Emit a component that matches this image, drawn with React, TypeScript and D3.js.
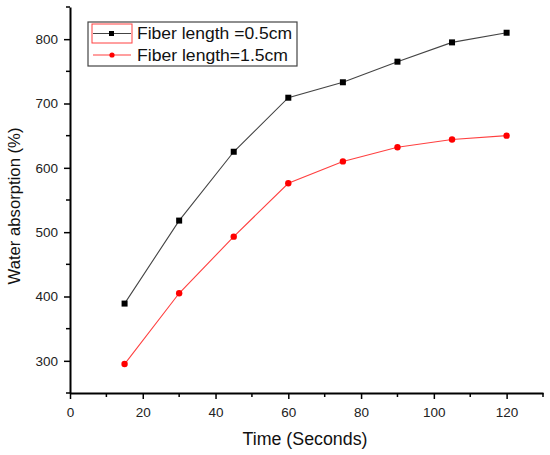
import { useEffect, useRef } from "react";
import * as d3 from "d3";

const times = [15, 30, 45, 60, 75, 90, 105, 120];
const shortFiber = [389, 518, 625, 709, 733, 765, 795, 810];
const longFiber = [295, 405, 493, 576, 610, 632, 644, 650];
const xTicks = [0, 20, 40, 60, 80, 100, 120];
const yTicks = [300, 400, 500, 600, 700, 800];
const seriesNames = ["Fiber length =0.5cm", "Fiber length=1.5cm"];

export default function App() {
  const svgRef = useRef(null);

  useEffect(() => {
    const svg = d3.select(svgRef.current);
    svg.selectAll("*").remove();

    const width = 550;
    const height = 455;
    const margin = { top: 7, right: 7, bottom: 62, left: 70 };
    const font = "Liberation Sans, Arial, sans-serif";

    svg.attr("width", width).attr("height", height);
    svg.append("rect").attr("width", width).attr("height", height).attr("fill", "white");

    const x = d3.scaleLinear().domain([0, 130]).range([margin.left, width - margin.right]);
    const y = d3.scaleLinear().domain([250, 850]).range([height - margin.bottom, margin.top]);

    const chart = svg.append("g");

    // minor ticks between the labelled ones
    const xMinor = d3.range(10, 131, 20);
    const yMinor = d3.range(250, 851, 100);

    const xAxisG = chart.append("g").attr("transform", `translate(0, ${y(250)})`);
    xAxisG
      .call(d3.axisBottom(x).tickValues(xTicks).tickSize(6).tickSizeOuter(0).tickPadding(8))
      .call((g) => g.select(".domain").attr("stroke", "#000").attr("stroke-width", 2))
      .call((g) => g.selectAll(".tick line").attr("stroke", "#000").attr("stroke-width", 1.5))
      .call((g) =>
        g.selectAll("text").attr("fill", "#222").attr("font-size", 13.5).attr("font-family", font)
      );
    xAxisG
      .selectAll("line.minor")
      .data(xMinor)
      .enter()
      .append("line")
      .attr("class", "minor")
      .attr("x1", (d) => x(d))
      .attr("x2", (d) => x(d))
      .attr("y1", 0)
      .attr("y2", 4)
      .attr("stroke", "#000")
      .attr("stroke-width", 1.5);

    const yAxisG = chart.append("g").attr("transform", `translate(${x(0)}, 0)`);
    yAxisG
      .call(d3.axisLeft(y).tickValues(yTicks).tickSize(6).tickSizeOuter(0).tickPadding(6))
      .call((g) => g.select(".domain").attr("stroke", "#000").attr("stroke-width", 2))
      .call((g) => g.selectAll(".tick line").attr("stroke", "#000").attr("stroke-width", 1.5))
      .call((g) =>
        g.selectAll("text").attr("fill", "#222").attr("font-size", 13.5).attr("font-family", font)
      );
    yAxisG
      .selectAll("line.minor")
      .data(yMinor)
      .enter()
      .append("line")
      .attr("class", "minor")
      .attr("x1", 0)
      .attr("x2", -4)
      .attr("y1", (d) => y(d))
      .attr("y2", (d) => y(d))
      .attr("stroke", "#000")
      .attr("stroke-width", 1.5);

    const line = d3
      .line()
      .x((d) => x(d[0]))
      .y((d) => y(d[1]));

    const blackData = times.map((t, i) => [t, shortFiber[i]]);
    const redData = times.map((t, i) => [t, longFiber[i]]);

    chart
      .append("path")
      .attr("d", line(blackData))
      .attr("fill", "none")
      .attr("stroke", "#444")
      .attr("stroke-width", 1.1);

    chart
      .selectAll("rect.black-pt")
      .data(blackData)
      .enter()
      .append("rect")
      .attr("class", "black-pt")
      .attr("x", (d) => x(d[0]) - 3)
      .attr("y", (d) => y(d[1]) - 3)
      .attr("width", 6)
      .attr("height", 6)
      .attr("fill", "#000");

    chart
      .append("path")
      .attr("d", line(redData))
      .attr("fill", "none")
      .attr("stroke", "#ff4040")
      .attr("stroke-width", 1.1);

    chart
      .selectAll("circle.red-pt")
      .data(redData)
      .enter()
      .append("circle")
      .attr("class", "red-pt")
      .attr("cx", (d) => x(d[0]))
      .attr("cy", (d) => y(d[1]))
      .attr("r", 3.2)
      .attr("fill", "#ff0000");

    // axis titles
    svg
      .append("text")
      .attr("x", 305)
      .attr("y", 445)
      .attr("text-anchor", "middle")
      .attr("font-size", 17.5)
      .attr("font-family", font)
      .attr("fill", "#111")
      .attr("textLength", 125)
      .attr("lengthAdjust", "spacingAndGlyphs")
      .text("Time (Seconds)");

    svg
      .append("text")
      .attr("transform", `translate(20, 206) rotate(-90)`)
      .attr("text-anchor", "middle")
      .attr("font-size", 17)
      .attr("font-family", font)
      .attr("fill", "#111")
      .attr("textLength", 157)
      .attr("lengthAdjust", "spacingAndGlyphs")
      .text("Water absorption (%)");

    // legend
    const legend = svg.append("g");
    legend
      .append("rect")
      .attr("x", 88)
      .attr("y", 22)
      .attr("width", 209)
      .attr("height", 44)
      .attr("fill", "white")
      .attr("stroke", "#444")
      .attr("stroke-width", 1.2);

    legend
      .append("rect")
      .attr("x", 92)
      .attr("y", 24)
      .attr("width", 40)
      .attr("height", 19)
      .attr("fill", "none")
      .attr("stroke", "#ff4040")
      .attr("stroke-width", 1);

    const legendRows = [33.5, 55];
    const legendColors = ["#444", "#ff4040"];
    const legendLengths = [155, 151];

    legendRows.forEach((ly, i) => {
      legend
        .append("line")
        .attr("x1", 93)
        .attr("x2", 131)
        .attr("y1", ly)
        .attr("y2", ly)
        .attr("stroke", legendColors[i])
        .attr("stroke-width", 1.1);
      if (i === 0) {
        legend
          .append("rect")
          .attr("x", 109)
          .attr("y", ly - 2.5)
          .attr("width", 5)
          .attr("height", 5)
          .attr("fill", "#000");
      } else {
        legend.append("circle").attr("cx", 112).attr("cy", ly).attr("r", 2.6).attr("fill", "#ff0000");
      }
      legend
        .append("text")
        .attr("x", 137)
        .attr("y", ly)
        .attr("dy", "0.36em")
        .attr("font-size", 16)
        .attr("font-family", font)
        .attr("fill", "#111")
        .attr("textLength", legendLengths[i])
        .attr("lengthAdjust", "spacingAndGlyphs")
        .text(seriesNames[i]);
    });
  }, []);

  return <svg ref={svgRef} style={{ position: "absolute", left: 0, top: 0 }}></svg>;
}
